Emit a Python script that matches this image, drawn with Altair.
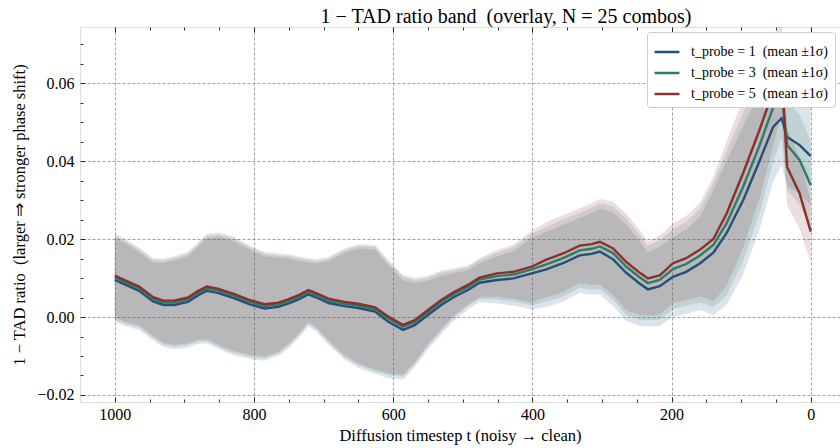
import altair as alt
import pandas as pd

# ---------------- data ----------------
T = [1000, 985, 965, 945, 930, 915, 895, 880, 868, 852,
     840, 828, 805, 785, 765, 750, 735, 722, 710, 693,
     670, 650, 626, 607, 586, 569, 550, 531, 512, 492,
     476, 451, 427, 401, 380, 356, 332, 315, 303, 284,
     265, 246, 234, 217, 198, 179, 159, 140, 121, 97,
     73, 54, 42, 34, 16, 0]

MEAN_1 = [0.0095, 0.0083, 0.0067, 0.0040, 0.0031, 0.0031, 0.0039, 0.0056, 0.0067, 0.0062,
          0.0055, 0.0048, 0.0032, 0.0022, 0.0026, 0.0035, 0.0046, 0.0058, 0.0050, 0.0036,
          0.0028, 0.0023, 0.0014, -0.0012, -0.0033, -0.0021, 0.0005, 0.0031, 0.0052, 0.0070,
          0.0088, 0.0095, 0.0099, 0.0112, 0.0122, 0.0138, 0.0158, 0.0162, 0.0168, 0.0148,
          0.0113, 0.0086, 0.0071, 0.0079, 0.0103, 0.0116, 0.0138, 0.0165, 0.0215, 0.0300,
          0.0403, 0.0488, 0.0510, 0.0462, 0.0441, 0.0413]

MEAN_3 = [0.0101, 0.0089, 0.0073, 0.0046, 0.0037, 0.0037, 0.0045, 0.0062, 0.0073, 0.0068,
          0.0061, 0.0054, 0.0038, 0.0028, 0.0032, 0.0041, 0.0052, 0.0064, 0.0056, 0.0042,
          0.0034, 0.0029, 0.0020, -0.0004, -0.0025, -0.0013, 0.0013, 0.0039, 0.0060, 0.0078,
          0.0096, 0.0105, 0.0109, 0.0122, 0.0135, 0.0151, 0.0171, 0.0175, 0.0181, 0.0164,
          0.0129, 0.0102, 0.0087, 0.0095, 0.0123, 0.0136, 0.0158, 0.0185, 0.0240, 0.0335,
          0.0443, 0.0538, 0.0580, 0.0441, 0.0403, 0.0338]

MEAN_5 = [0.0106, 0.0094, 0.0078, 0.0051, 0.0042, 0.0042, 0.0050, 0.0067, 0.0078, 0.0073,
          0.0066, 0.0059, 0.0043, 0.0033, 0.0037, 0.0046, 0.0057, 0.0069, 0.0061, 0.0047,
          0.0039, 0.0034, 0.0025, 0.0001, -0.0020, -0.0008, 0.0018, 0.0044, 0.0065, 0.0083,
          0.0101, 0.0112, 0.0116, 0.0129, 0.0147, 0.0163, 0.0183, 0.0187, 0.0193, 0.0176,
          0.0141, 0.0114, 0.0099, 0.0107, 0.0138, 0.0151, 0.0173, 0.0200, 0.0265, 0.0370,
          0.0483, 0.0580, 0.0640, 0.0385, 0.0317, 0.0219]

SIGMA = [0.0108, 0.0106, 0.0100, 0.0100, 0.0108, 0.0114, 0.0117, 0.0125, 0.0135, 0.0143,
         0.0146, 0.0146, 0.0140, 0.0134, 0.0126, 0.0115, 0.0098, 0.0082, 0.0088, 0.0107,
         0.0137, 0.0153, 0.0160, 0.0145, 0.0128, 0.0108, 0.0088, 0.0075, 0.0060, 0.0050,
         0.0050, 0.0060, 0.0070, 0.0092, 0.0096, 0.0099, 0.0096, 0.0105, 0.0110, 0.0120,
         0.0124, 0.0109, 0.0095, 0.0102, 0.0102, 0.0108, 0.0120, 0.0160, 0.0185, 0.0190,
         0.0175, 0.0140, 0.0120, 0.0105, 0.0100, 0.0095]
SIGMA_TAIL_1 = [0.0125, 0.0125, 0.0125]
SIGMA_TAIL_3 = [0.0115, 0.0115, 0.0115]
SIGMA_TAIL_5 = [0.0100, 0.0090, 0.0080]

SP = "\u00a0\u00a0"
SERIES = [f"t_probe = 1{SP}(mean ±1σ)", f"t_probe = 3{SP}(mean ±1σ)", f"t_probe = 5{SP}(mean ±1σ)"]
COLORS = ["#244f7a", "#2e7c67", "#8b2f2a"]

X_MAJOR = [1000, 800, 600, 400, 200, 0]
X_MINOR = [950, 900, 850, 750, 700, 650, 550, 500, 450, 350, 300, 250, 150, 100, 50]
Y_MAJOR = [-0.02, 0.0, 0.02, 0.04, 0.06]
Y_MINOR = [-0.015, -0.01, -0.005, 0.005, 0.01, 0.015, 0.025, 0.03, 0.035,
           0.045, 0.05, 0.055, 0.065, 0.07]

# ---------------- table ----------------
rows = []
sigmas = [SIGMA[:-3] + SIGMA_TAIL_1, SIGMA[:-3] + SIGMA_TAIL_3, SIGMA[:-3] + SIGMA_TAIL_5]
for name, means, sig in zip(SERIES, [MEAN_1, MEAN_3, MEAN_5], sigmas):
    for t, m, s in zip(T, means, sig):
        rows.append({"t": t, "series": name, "mean": m, "lo": m - s, "hi": m + s})
df = pd.DataFrame(rows)

W, H = 760, 375
FONT = "Liberation Serif"

xscale = alt.Scale(domain=[-42, 1050], reverse=True, nice=False, zero=False)
yscale = alt.Scale(domain=[-0.0218, 0.0744], nice=False, zero=False)
cscale = alt.Scale(domain=SERIES, range=COLORS)

legend = alt.Legend(
    title=None, orient="none", legendX=567, legendY=5,
    fillColor="white", strokeColor="#cccccc", cornerRadius=3, padding=6,
    symbolType="stroke", symbolStrokeWidth=2.5, symbolSize=620,
    labelFont=FONT, labelFontSize=14, labelColor="black", rowPadding=0,
    labelOffset=10, symbolOpacity=1)

base = alt.Chart(df)

x_main = alt.X("t:Q", scale=xscale, axis=alt.Axis(
    values=X_MAJOR, grid=True, gridDash=[3, 2], gridColor="#8a8a8a", gridWidth=0.8,
    ticks=False, tickSize=0, domain=False, labelFont=FONT, labelFontSize=16,
    labelColor="black", labelPadding=4, format="d",
    title="Diffusion timestep t (noisy → clean)", titleFont=FONT, titleFontSize=16.5,
    titleFontWeight="normal", titleColor="black", titlePadding=5))
y_main = alt.Y("lo:Q", scale=yscale, axis=alt.Axis(
    values=Y_MAJOR, grid=True, gridDash=[3, 2], gridColor="#8a8a8a", gridWidth=0.8,
    ticks=False, tickSize=0, domain=False, labelFont=FONT, labelFontSize=16,
    labelColor="black", labelPadding=6, format=".2f",
    title=f"1 − TAD ratio{SP}(larger ⇒ stronger phase shift)", titleFont=FONT,
    titleFontSize=16.5, titleFontWeight="normal", titleColor="black", titlePadding=9))

bands = base.mark_area(opacity=0.155, interpolate="linear", clip=True).encode(
    x=x_main, y=y_main, y2="hi:Q",
    color=alt.Color("series:N", scale=cscale, legend=legend))

lines = base.mark_line(strokeWidth=2.4, clip=True).encode(
    x=alt.X("t:Q", scale=xscale, axis=None),
    y=alt.Y("mean:Q", scale=yscale, axis=None),
    color=alt.Color("series:N", scale=cscale, legend=legend))


def tick_layer(xvals, xorient, xsize, yvals, ysize):
    enc = {
        "x": alt.X("t:Q", scale=xscale, axis=alt.Axis(
            orient=xorient, offset=-H, values=xvals, labels=False, ticks=True,
            tickSize=xsize, tickColor="black", tickWidth=0.8, domain=False,
            grid=False, title=None)),
    }
    if yvals is not None:
        enc["y"] = alt.Y("mean:Q", scale=yscale, axis=alt.Axis(
            orient="right", offset=-W, values=yvals, labels=False, ticks=True,
            tickSize=ysize, tickColor="black", tickWidth=0.8, domain=False,
            grid=False, title=None))
    else:
        enc["y"] = alt.Y("mean:Q", scale=yscale, axis=None)
    return base.mark_line(strokeOpacity=0, clip=True).encode(**enc)


t1 = tick_layer(X_MAJOR, "top", 5, Y_MAJOR, 5)
t2 = tick_layer(X_MINOR, "top", 3, Y_MINOR, 3)
t3 = tick_layer(X_MAJOR, "bottom", 5, None, 0)
t4 = tick_layer(X_MINOR, "bottom", 3, None, 0)

chart = alt.layer(bands, lines, t1, t2, t3, t4).resolve_axis(
    x="independent", y="independent"
).properties(
    width=W, height=H,
    title=alt.TitleParams(f"1 − TAD ratio band{SP}(overlay, N = 25 combos)", font=FONT,
                          fontSize=20, fontWeight="normal", color="black",
                          anchor="middle", dx=46, dy=8, offset=8),
    autosize=alt.AutoSizeParams(type="none"),
    padding={"left": 80, "top": 27, "right": 0, "bottom": 46},
).configure_view(stroke="black", strokeWidth=1.1).configure(background="white")

chart.save("out.html", embed_options={"renderer": "svg", "actions": False})
